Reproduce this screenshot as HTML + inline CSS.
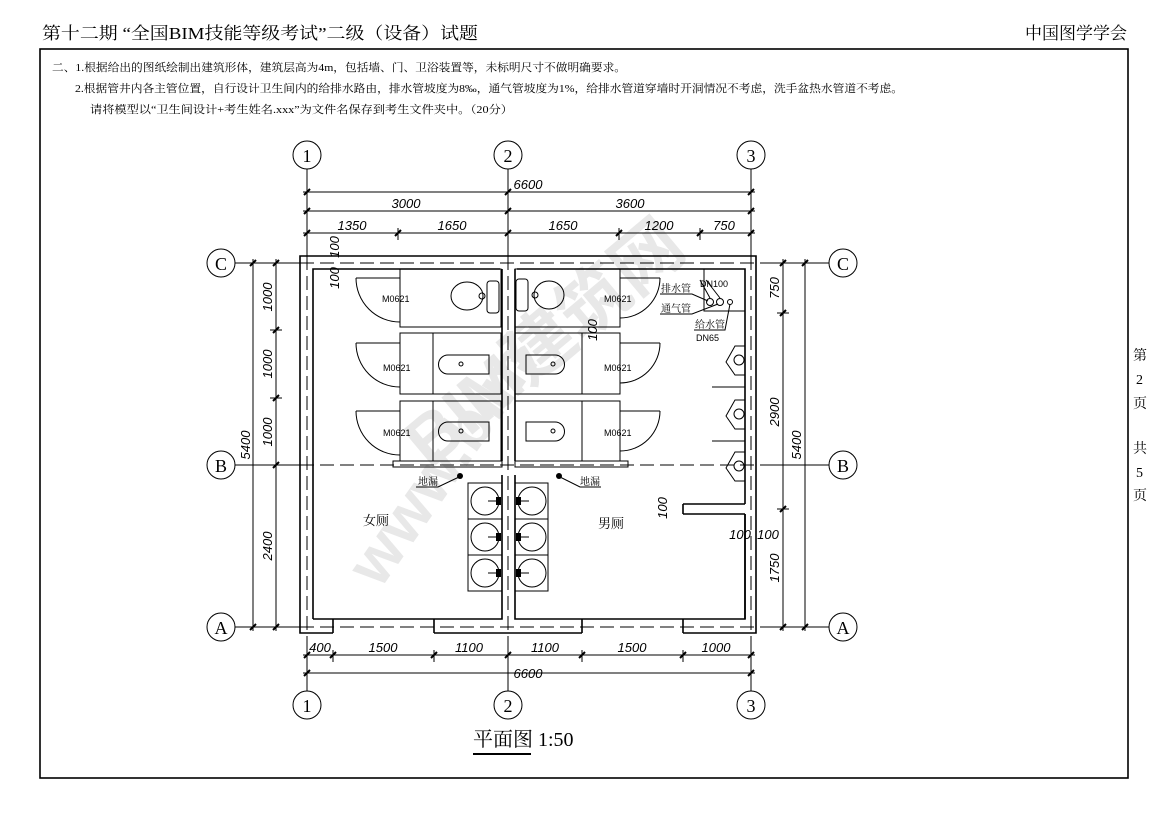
<!DOCTYPE html>
<html><head><meta charset="utf-8"><style>
html,body{margin:0;padding:0;background:#fff;}
svg{display:block;font-family:"Liberation Sans","Noto Sans CJK SC",sans-serif;}
.l{stroke:#000;stroke-width:1;fill:none}
.t{stroke:#000;stroke-width:1.6;fill:none}
.d{stroke:#000;stroke-width:1;fill:none;stroke-dasharray:14 6}
.n{font-family:"Liberation Sans Narrow","Liberation Sans",sans-serif;font-style:italic;font-size:13px}
</style></head><body>
<svg width="1169" height="826" viewBox="0 0 1169 826" xmlns="http://www.w3.org/2000/svg">
<rect width="1169" height="826" fill="#fff"/>
<g fill="#e8e8e8" font-weight="bold" font-family="Liberation Sans, Noto Sans CJK SC, sans-serif">
<text x="0" y="0" font-size="70" transform="translate(430,470) rotate(-40)">BIM建筑网</text>
<text x="0" y="0" font-size="64" transform="translate(380,590) rotate(-55)">www.bim</text>
</g>
<text x="42" y="39" font-size="17" textLength="436" lengthAdjust="spacingAndGlyphs" font-family="Liberation Serif, Noto Serif CJK SC, serif">第十二期 “全国BIM技能等级考试”二级（设备）试题</text>
<text x="1025" y="39" font-size="17" font-family="Liberation Serif, Noto Serif CJK SC, serif">中国图学学会</text>
<rect x="40" y="49" width="1088" height="729" class="t"/>
<g font-size="11" font-family="Liberation Serif, Noto Serif CJK SC, serif">
<text x="52" y="71" textLength="574" lengthAdjust="spacingAndGlyphs">二、1.根据给出的图纸绘制出建筑形体，建筑层高为4m，包括墙、门、卫浴装置等，未标明尺寸不做明确要求。</text>
<text x="75" y="92" textLength="828" lengthAdjust="spacingAndGlyphs">2.根据管井内各主管位置，自行设计卫生间内的给排水路由，排水管坡度为8‰，通气管坡度为1%，给排水管道穿墙时开洞情况不考虑，洗手盆热水管道不考虑。</text>
<text x="90" y="113" textLength="423" lengthAdjust="spacingAndGlyphs">请将模型以“卫生间设计+考生姓名.xxx”为文件名保存到考生文件夹中。（20分）</text>
</g>
<g font-size="14" font-family="Liberation Serif, Noto Serif CJK SC, serif">
<text x="1133" y="360">第</text><text x="1136" y="384">2</text><text x="1133" y="408">页</text>
<text x="1133" y="453">共</text><text x="1136" y="477">5</text><text x="1133" y="500">页</text>
</g>
<g class="l">
<circle cx="307" cy="155" r="14"/><circle cx="508" cy="155" r="14"/><circle cx="751" cy="155" r="14"/>
<circle cx="307" cy="705" r="14"/><circle cx="508" cy="705" r="14"/><circle cx="751" cy="705" r="14"/>
<circle cx="221" cy="263" r="14"/><circle cx="221" cy="465" r="14"/><circle cx="221" cy="627" r="14"/>
<circle cx="843" cy="263" r="14"/><circle cx="843" cy="465" r="14"/><circle cx="843" cy="627" r="14"/>
<line x1="307" y1="169" x2="307" y2="260"/><line x1="508" y1="169" x2="508" y2="256"/><line x1="751" y1="169" x2="751" y2="256"/>
<line x1="307" y1="636" x2="307" y2="691"/><line x1="508" y1="636" x2="508" y2="691"/><line x1="751" y1="636" x2="751" y2="691"/>
<line x1="235" y1="263" x2="300" y2="263"/><line x1="235" y1="465" x2="300" y2="465"/><line x1="235" y1="627" x2="300" y2="627"/>
<line x1="760" y1="263" x2="829" y2="263"/><line x1="760" y1="465" x2="829" y2="465"/><line x1="760" y1="627" x2="829" y2="627"/>
</g>
<g font-size="18" font-family="Liberation Serif, serif" text-anchor="middle">
<text x="307" y="162">1</text><text x="508" y="162">2</text><text x="751" y="162">3</text>
<text x="307" y="712">1</text><text x="508" y="712">2</text><text x="751" y="712">3</text>
<text x="221" y="270">C</text><text x="221" y="472">B</text><text x="221" y="634">A</text>
<text x="843" y="270">C</text><text x="843" y="472">B</text><text x="843" y="634">A</text>
</g>
<g class="d">
<line x1="300" y1="263" x2="760" y2="263"/><line x1="300" y1="465" x2="760" y2="465"/><line x1="300" y1="627" x2="760" y2="627"/>
<line x1="307" y1="256" x2="307" y2="633"/><line x1="508" y1="256" x2="508" y2="633"/><line x1="751" y1="256" x2="751" y2="633"/>
</g>
<g class="l">
<line x1="303" y1="192" x2="755" y2="192"/><line x1="303" y1="211" x2="755" y2="211"/><line x1="303" y1="233" x2="755" y2="233"/>
<line x1="303" y1="655" x2="755" y2="655"/><line x1="303" y1="673" x2="755" y2="673"/>
<line x1="253" y1="259" x2="253" y2="631"/><line x1="276" y1="259" x2="276" y2="631"/>
<line x1="783" y1="259" x2="783" y2="631"/><line x1="805" y1="259" x2="805" y2="631"/>
<line x1="398" y1="228" x2="398" y2="240"/><line x1="619" y1="228" x2="619" y2="240"/><line x1="700" y1="228" x2="700" y2="240"/>
<line x1="333" y1="650" x2="333" y2="662"/><line x1="434" y1="650" x2="434" y2="662"/><line x1="582" y1="650" x2="582" y2="662"/><line x1="683" y1="650" x2="683" y2="662"/>
<line x1="270" y1="330" x2="282" y2="330"/><line x1="270" y1="398" x2="282" y2="398"/>
<line x1="777" y1="313" x2="789" y2="313"/><line x1="777" y1="509" x2="789" y2="509"/>
</g>
<g stroke="#000" stroke-width="2">
<path d="M304 195l6-6M505 195l6-6M748 195l6-6M304 214l6-6M505 214l6-6M748 214l6-6M304 236l6-6M395 236l6-6M505 236l6-6M616 236l6-6M697 236l6-6M748 236l6-6"/>
<path d="M304 658l6-6M330 658l6-6M431 658l6-6M505 658l6-6M579 658l6-6M680 658l6-6M748 658l6-6M304 676l6-6M748 676l6-6"/>
<path d="M250 266l6-6M250 630l6-6M273 266l6-6M273 333l6-6M273 401l6-6M273 468l6-6M273 630l6-6"/>
<path d="M780 266l6-6M780 316l6-6M780 512l6-6M780 630l6-6M802 266l6-6M802 630l6-6"/>
</g>
<g class="n" text-anchor="middle">
<text x="528" y="189">6600</text><text x="406" y="208">3000</text><text x="630" y="208">3600</text>
<text x="352" y="230">1350</text><text x="452" y="230">1650</text><text x="563" y="230">1650</text><text x="659" y="230">1200</text><text x="724" y="230">750</text>
<text x="320" y="652">400</text><text x="383" y="652">1500</text><text x="469" y="652">1100</text><text x="545" y="652">1100</text><text x="632" y="652">1500</text><text x="716" y="652">1000</text>
<text x="528" y="678">6600</text>
<text x="740" y="539">100</text><text x="768" y="539">100</text>
<text transform="translate(272,297) rotate(-90)">1000</text>
<text transform="translate(272,364) rotate(-90)">1000</text>
<text transform="translate(272,432) rotate(-90)">1000</text>
<text transform="translate(272,546) rotate(-90)">2400</text>
<text transform="translate(250,445) rotate(-90)">5400</text>
<text transform="translate(801,445) rotate(-90)">5400</text>
<text transform="translate(779,288) rotate(-90)">750</text>
<text transform="translate(779,412) rotate(-90)">2900</text>
<text transform="translate(779,568) rotate(-90)">1750</text>
<text transform="translate(339,247) rotate(-90)">100</text>
<text transform="translate(339,278) rotate(-90)">100</text>
<text transform="translate(597,330) rotate(-90)">100</text>
<text transform="translate(667,508) rotate(-90)">100</text>
</g>
<g class="t">
<path d="M333 633H300V256H756V633H683"/><line x1="434" y1="633" x2="582" y2="633"/>
<path d="M333 633V619M434 633V619M582 633V619M683 633V619"/>
<path d="M313 619V269H500M517 269H745V504"/>
<path d="M313 619H502V475M515 475V619H745V514"/>
<path d="M502 461V269M515 461V269"/>
<path d="M683 504H745M683 514H745M683 504V514"/>
<path d="M745 514V619"/>
</g>
<g class="l">
<rect x="400" y="269" width="101" height="58"/><rect x="400" y="333" width="101" height="61"/><rect x="400" y="401" width="101" height="60"/>
<rect x="433" y="333" width="68" height="61"/><rect x="433" y="401" width="68" height="60"/>
<rect x="393" y="461" width="109" height="6"/>
<path d="M356 278H400M356 278A44 44 0 0 0 400 322"/>
<path d="M356 343H400M356 343A44 44 0 0 0 400 387"/>
<path d="M356 411H400M356 411A44 44 0 0 0 400 455"/>
<ellipse cx="467" cy="296" rx="16" ry="14"/><rect x="487" y="281" width="12" height="32" rx="3"/><circle cx="482" cy="296" r="3"/>
<path d="M448 355H489V374H448A9.5 9.5 0 0 1 448 355Z"/><circle cx="461" cy="364" r="2"/>
<path d="M448 422H489V441H448A9.5 9.5 0 0 1 448 422Z"/><circle cx="461" cy="431" r="2"/>
</g>
<g class="l">
<rect x="515" y="269" width="105" height="58"/><rect x="515" y="333" width="105" height="61"/><rect x="515" y="401" width="105" height="60"/>
<rect x="515" y="333" width="67" height="61"/><rect x="515" y="401" width="67" height="60"/>
<rect x="515" y="461" width="113" height="6"/>
<path d="M620 278H660M660 278A40 40 0 0 1 620 318"/>
<path d="M620 343H660M660 343A40 40 0 0 1 620 383"/>
<path d="M620 411H660M660 411A40 40 0 0 1 620 451"/>
<ellipse cx="549" cy="295" rx="15" ry="14"/><rect x="516" y="279" width="12" height="32" rx="3"/><circle cx="535" cy="295" r="3"/>
<path d="M526 355H555A9.5 9.5 0 0 1 555 374H526Z"/><circle cx="553" cy="364" r="2"/>
<path d="M526 422H555A9.5 9.5 0 0 1 555 441H526Z"/><circle cx="553" cy="431" r="2"/>
<rect x="704" y="269" width="41" height="42"/>
<circle cx="710" cy="302" r="3.5"/><circle cx="720" cy="302" r="3.5"/><circle cx="730" cy="302" r="2.5"/>
<path d="M712 387H745M712 441H745"/>
<path d="M745 346L735 346L726 362L735 375L745 375"/><circle cx="739" cy="360" r="5"/>
<path d="M745 400L735 400L726 416L735 429L745 429"/><circle cx="739" cy="414" r="5"/>
<path d="M745 452L735 452L726 468L735 481L745 481"/><circle cx="739" cy="466" r="5"/>
<rect x="468" y="483" width="34" height="36"/><rect x="468" y="519" width="34" height="36"/><rect x="468" y="555" width="34" height="36"/>
<rect x="515" y="483" width="33" height="36"/><rect x="515" y="519" width="33" height="36"/><rect x="515" y="555" width="33" height="36"/>
<circle cx="485" cy="501" r="14"/><circle cx="485" cy="537" r="14"/><circle cx="485" cy="573" r="14"/>
<circle cx="532" cy="501" r="14"/><circle cx="532" cy="537" r="14"/><circle cx="532" cy="573" r="14"/>
<path d="M488 501H498M488 537H498M488 573H498M519 501H529M519 537H529M519 573H529"/>
<path d="M416 487H438L459 477M601 487H580L560 477"/>
<path d="M660 294H692L708 301M660 314H692L718 304M694 330H725L730 304M700 280L710 298M706 280L720 298"/>
</g>
<g fill="#000"><circle cx="460" cy="476" r="3"/><circle cx="559" cy="476" r="3"/>
<rect x="496" y="497" width="5" height="8"/><rect x="496" y="533" width="5" height="8"/><rect x="496" y="569" width="5" height="8"/>
<rect x="516" y="497" width="5" height="8"/><rect x="516" y="533" width="5" height="8"/><rect x="516" y="569" width="5" height="8"/></g>
<g font-size="9" font-family="Liberation Sans Narrow, Liberation Sans, sans-serif">
<text x="382" y="302">M0621</text><text x="383" y="371">M0621</text><text x="383" y="436">M0621</text>
<text x="604" y="302">M0621</text><text x="604" y="371">M0621</text><text x="604" y="436">M0621</text>
<text x="700" y="287">DN100</text><text x="696" y="341">DN65</text>
</g>
<g font-size="10" font-family="Liberation Serif, Noto Serif CJK SC, serif">
<text x="418" y="485">地漏</text><text x="580" y="485">地漏</text>
<text x="661" y="292">排水管</text><text x="661" y="312">通气管</text><text x="695" y="328">给水管</text>
</g>
<g font-size="13" font-family="Liberation Serif, Noto Serif CJK SC, serif">
<text x="363" y="525">女厕</text><text x="598" y="528">男厕</text>
</g>
<text x="473" y="746" font-size="20" font-family="Liberation Serif, Noto Serif CJK SC, serif">平面图 1:50</text>
<line x1="473" y1="754" x2="531" y2="754" stroke="#000" stroke-width="2"/>
</svg>
</body></html>
